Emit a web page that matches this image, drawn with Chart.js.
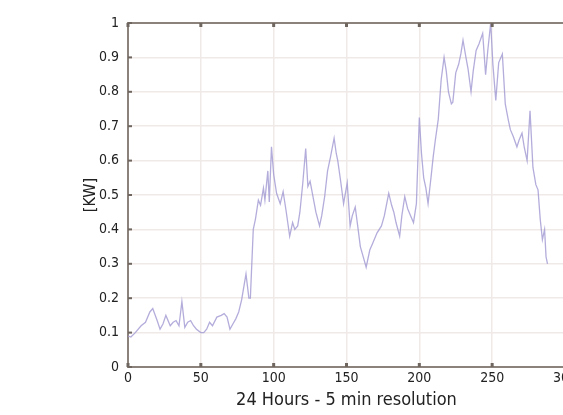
<!DOCTYPE html>
<html>
<head>
<meta charset="utf-8">
<script src="https://cdn.jsdelivr.net/npm/chart.js@4.4.1/dist/chart.umd.min.js"></script>
<style>
  html, body { margin: 0; padding: 0; background: #fff; overflow: hidden; }
  #wrap { width: 563px; height: 415px; overflow: hidden; }
</style>
</head>
<body>
<div id="wrap">
  <canvas id="power-chart" width="580" height="415"></canvas>
</div>
<script>
const sampleIdx = [
  0, 2, 5, 9, 12, 15, 17, 20, 22, 24, 26, 29, 31, 33, 35, 37, 39, 41, 43, 45,
  47, 50, 52, 54, 56, 58, 61, 64, 66, 68, 70, 72, 74, 76, 78, 81, 83, 84, 86, 87.5,
  89.5, 91, 93, 94, 96, 97, 98.5, 100, 102, 104.5, 106.5, 108.5, 111, 113, 114.5, 116.5, 118, 120, 122, 123.5,
  125, 127, 129, 131.5, 133, 135, 137, 139, 141.5, 143, 144, 146, 148, 150.5, 152.5, 154, 156, 158, 159.5, 161.5,
  163.5, 166, 168, 171, 174, 176, 179, 181, 182.5, 184, 186.5, 188, 190, 192, 194, 196, 198, 200, 201.5, 203,
  204.5, 206, 208, 209.5, 211, 213, 215, 217, 218.5, 220, 222, 223, 225, 227, 228.5, 230, 232, 233.5, 235.5, 237,
  239, 241, 243.5, 245.5, 247, 249, 250.5, 252.5, 254.5, 257, 259, 261, 262.5, 264.5, 267, 268.5, 270.5, 272, 274, 276,
  278, 280, 281.5, 283, 284.5, 286, 287, 288
];
const loadKW = [
  0.09, 0.087, 0.10, 0.12, 0.13, 0.16, 0.17, 0.135, 0.11, 0.125, 0.15, 0.12, 0.13, 0.135, 0.12, 0.19, 0.115, 0.13, 0.135, 0.12,
  0.11, 0.10, 0.10, 0.11, 0.13, 0.12, 0.145, 0.15, 0.155, 0.145, 0.11, 0.125, 0.14, 0.16, 0.195, 0.27, 0.2, 0.2, 0.40, 0.43,
  0.485, 0.47, 0.52, 0.485, 0.57, 0.48, 0.64, 0.56, 0.505, 0.475, 0.51, 0.455, 0.38, 0.42, 0.40, 0.41, 0.45, 0.535, 0.635, 0.525,
  0.54, 0.495, 0.45, 0.41, 0.44, 0.495, 0.57, 0.61, 0.665, 0.62, 0.60, 0.54, 0.475, 0.535, 0.41, 0.44, 0.465, 0.40, 0.35, 0.32,
  0.29, 0.34, 0.36, 0.39, 0.41, 0.44, 0.505, 0.47, 0.45, 0.42, 0.38, 0.44, 0.495, 0.46, 0.44, 0.42, 0.475, 0.725, 0.62, 0.55,
  0.52, 0.475, 0.55, 0.61, 0.66, 0.72, 0.835, 0.90, 0.86, 0.80, 0.765, 0.77, 0.855, 0.88, 0.91, 0.95, 0.90, 0.865, 0.80, 0.86,
  0.92, 0.94, 0.97, 0.85, 0.92, 1.0, 0.88, 0.775, 0.885, 0.91, 0.765, 0.72, 0.69, 0.67, 0.64, 0.66, 0.68, 0.64, 0.60, 0.745,
  0.58, 0.53, 0.515, 0.43, 0.37, 0.40, 0.32, 0.30
];
const xTicks = [0, 50, 100, 150, 200, 250, 300];
const yTicks = [0, 0.1, 0.2, 0.3, 0.4, 0.5, 0.6, 0.7, 0.8, 0.9, 1];

const FONT = '"DejaVu Sans Condensed", "Liberation Sans", sans-serif';
const AXIS_COLOR = '#8c827c';

// top frame line + small inward tick marks like the original matlab-style plot
const frameTicks = {
  id: 'frameTicks',
  afterDraw(chart) {
    const { ctx, chartArea, scales } = chart;
    ctx.save();
    ctx.strokeStyle = AXIS_COLOR;
    ctx.lineWidth = 2;
    ctx.beginPath();
    ctx.moveTo(chartArea.left, chartArea.top);
    ctx.lineTo(chartArea.right + 10, chartArea.top);
    ctx.stroke();

    ctx.fillStyle = '#6f6660';
    xTicks.forEach(t => {
      const px = scales.x.getPixelForValue(t);
      ctx.fillRect(px - 1.5, chartArea.top, 3, 4);
      ctx.fillRect(px - 1.5, chartArea.bottom - 4, 3, 4);
    });
    yTicks.forEach(t => {
      const py = scales.y.getPixelForValue(t);
      ctx.fillRect(chartArea.left, py - 1, 4, 2);
    });
    ctx.restore();
  }
};

const ctx = document.getElementById('power-chart').getContext('2d');
new Chart(ctx, {
  type: 'line',
  data: {
    labels: sampleIdx,
    datasets: [{
      data: sampleIdx.map((x, i) => ({ x: x, y: loadKW[i] })),
      borderColor: 'rgba(160, 152, 210, 0.8)',
      borderWidth: 1.3,
      pointRadius: 0,
      tension: 0,
      fill: false,
    }],
  },
  options: {
    responsive: false,
    animation: false,
    layout: { padding: { top: 23, left: 78, right: 10, bottom: 0 } },
    plugins: {
      legend: { display: false },
      tooltip: { enabled: false },
    },
    scales: {
      x: {
        type: 'linear',
        min: 0,
        max: 300,
        afterBuildTicks: scale => { scale.ticks = xTicks.map(v => ({ value: v })); },
        afterFit: scale => { scale.height = 48; },
        grid: { color: '#efeae7', lineWidth: 1.5, drawTicks: false },
        border: { display: true, color: AXIS_COLOR, width: 2 },
        ticks: {
          padding: 3,
          color: '#222',
          font: { family: FONT, size: 14 },
          maxRotation: 0,
        },
        title: {
          display: true,
          text: '24 Hours - 5 min resolution',
          color: '#222',
          font: { family: FONT, size: 18 },
          padding: { top: 2, bottom: 4 },
        },
      },
      y: {
        min: 0,
        max: 1,
        afterBuildTicks: scale => { scale.ticks = yTicks.map(v => ({ value: v })); },
        afterFit: scale => { scale.width = 50; },
        grid: { color: '#efeae7', lineWidth: 1.5, drawTicks: false },
        border: { display: true, color: AXIS_COLOR, width: 2 },
        ticks: {
          padding: 9,
          color: '#222',
          font: { family: FONT, size: 14 },
          callback: v => String(Math.round(v * 10) / 10),
        },
        title: {
          display: true,
          text: '[KW]',
          color: '#222',
          font: { family: FONT, size: 16 },
          padding: { top: 3, bottom: 0 },
        },
      },
    },
  },
  plugins: [frameTicks],
});
</script>
</body>
</html>
